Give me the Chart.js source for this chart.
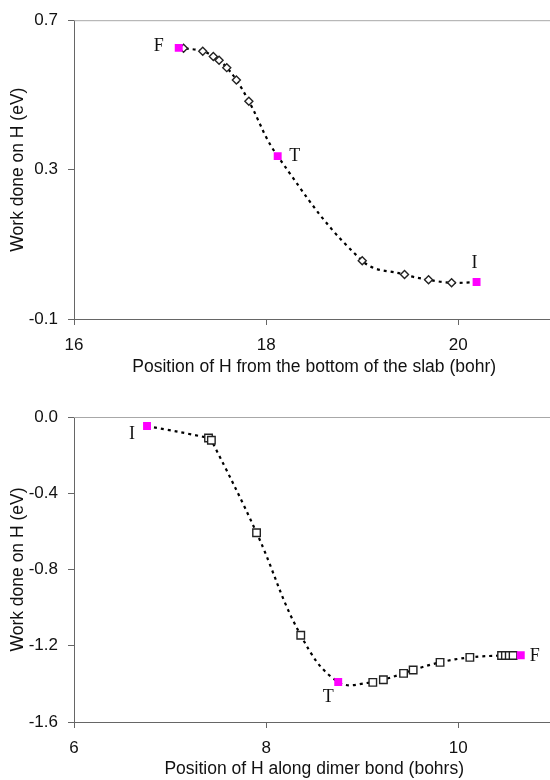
<!DOCTYPE html>
<html>
<head>
<meta charset="utf-8">
<script src="https://cdn.jsdelivr.net/npm/chart.js@4.4.1/dist/chart.umd.min.js"></script>
<style>
  html, body { margin: 0; padding: 0; background: #fff; overflow: hidden; width: 550px; height: 780px; }
  .panel { position: relative; width: 560px; height: 390px; }
</style>
</head>
<body>
<div class="panel"><canvas id="slabChart" width="560" height="390"></canvas></div>
<div class="panel"><canvas id="dimerChart" width="560" height="390"></canvas></div>
<script>
// Top panel: H leaving the slab
const slabX = [17.09, 17.14, 17.34, 17.45, 17.51, 17.59, 17.69, 17.82, 18.12, 19.00, 19.44, 19.69, 19.93, 20.19];
const slabY = [0.626, 0.625, 0.617, 0.603, 0.593, 0.573, 0.540, 0.483, 0.336, 0.056, 0.019, 0.005, -0.003, -0.001];
const slabStateX = [17.09, 18.12, 20.19];
const slabStateY = [0.626, 0.336, -0.001];
const slabStateNames = ['F', 'T', 'I'];
const slabXTicks = [16, 18, 20];
const slabYTicks = [-0.1, 0.3, 0.7];

// Bottom panel: H moving along the dimer bond
const dimerX = [6.76, 7.40, 7.43, 7.90, 8.36, 8.75, 9.11, 9.22, 9.43, 9.53, 9.81, 10.12, 10.45, 10.49, 10.53, 10.57, 10.65];
const dimerY = [-0.047, -0.110, -0.122, -0.607, -1.145, -1.390, -1.392, -1.378, -1.345, -1.327, -1.287, -1.261, -1.251, -1.251, -1.251, -1.251, -1.250];
const dimerStateX = [6.76, 8.75, 10.65];
const dimerStateY = [-0.047, -1.390, -1.250];
const dimerStateNames = ['I', 'T', 'F'];
const dimerXTicks = [6, 8, 10];
const dimerYTicks = [-1.6, -1.2, -0.8, -0.4, 0.0];

Chart.defaults.font.family = "'Liberation Sans', Arial, sans-serif";
Chart.defaults.font.size = 17;
Chart.defaults.color = '#111';

const AXIS = '#666';
const PINK = '#ff00ff';

// light rule across the top of the plot area
const topRule = {
  id: 'topRule',
  beforeDatasetsDraw(chart) {
    const { ctx, chartArea: a } = chart;
    ctx.save();
    ctx.strokeStyle = '#a8a8a8';
    ctx.lineWidth = 1;
    ctx.beginPath();
    ctx.moveTo(a.left, a.top + 0.5);
    ctx.lineTo(a.right, a.top + 0.5);
    ctx.stroke();
    ctx.restore();
  }
};

// serif letters next to the magenta state points
const stateLabels = {
  id: 'stateLabels',
  afterDatasetsDraw(chart, args, opts) {
    const meta = chart.getDatasetMeta(1);
    const ctx = chart.ctx;
    ctx.save();
    ctx.font = "18px 'Liberation Serif', 'Times New Roman', serif";
    ctx.fillStyle = '#111';
    ctx.textAlign = 'center';
    ctx.textBaseline = 'middle';
    meta.data.forEach((pt, i) => {
      const [dx, dy] = opts.offsets[i];
      ctx.fillText(opts.names[i], pt.x + dx, pt.y + dy);
    });
    ctx.restore();
  }
};

const toXY = (xs, ys) => xs.map((x, i) => ({ x, y: ys[i] }));

function buildChart(id, o) {
  const ctx = document.getElementById(id).getContext('2d');
  return new Chart(ctx, {
    type: 'line',
    data: {
      datasets: [
        {
          data: toXY(o.x, o.y),
          borderColor: '#000',
          borderWidth: 2.2,
          borderDash: [3, 4],
          tension: 0.4,
          fill: false,
          pointStyle: o.marker,
          pointRadius: c => o.stateX.includes(o.x[c.dataIndex]) ? 0 : o.markerRadius,
          pointBackgroundColor: '#fff',
          pointBorderColor: '#222',
          pointBorderWidth: 1.4,
          order: 2
        },
        {
          data: toXY(o.stateX, o.stateY),
          showLine: false,
          pointStyle: 'rect',
          pointRadius: 5.6,
          pointBackgroundColor: PINK,
          pointBorderColor: PINK,
          pointBorderWidth: 0,
          order: 1
        }
      ]
    },
    options: {
      responsive: false,
      animation: false,
      layout: { padding: { top: o.padTop, left: 0, right: 0, bottom: 0 } },
      plugins: {
        legend: { display: false },
        tooltip: { enabled: false },
        stateLabels: { names: o.stateNames, offsets: o.labelOffsets }
      },
      scales: {
        x: {
          type: 'linear',
          min: o.xMin,
          max: o.xMax,
          afterBuildTicks: axis => { axis.ticks = o.xTicks.map(v => ({ value: v })); },
          afterFit: axis => { axis.height = o.xAxisHeight; },
          grid: { drawOnChartArea: false, tickLength: 6, tickColor: AXIS },
          border: { color: AXIS, width: 1 },
          ticks: { padding: 10, maxRotation: 0 },
          title: {
            display: true,
            text: o.xTitle,
            font: { size: 17.5 },
            padding: { top: 0, bottom: o.xTitlePad }
          }
        },
        y: {
          type: 'linear',
          min: o.yTicks[0],
          max: o.yTicks[o.yTicks.length - 1],
          afterBuildTicks: axis => { axis.ticks = o.yTicks.map(v => ({ value: v })); },
          afterFit: axis => { axis.width = 74; },
          grid: { drawOnChartArea: false, tickLength: 6, tickColor: AXIS },
          border: { color: AXIS, width: 1 },
          ticks: { padding: 10, callback: v => v.toFixed(1) },
          title: {
            display: true,
            text: 'Work done on H (eV)',
            font: { size: 17.5 },
            padding: { top: 8, bottom: 0 }
          }
        }
      }
    },
    plugins: [topRule, stateLabels]
  });
}

buildChart('slabChart', {
  x: slabX, y: slabY,
  stateX: slabStateX, stateY: slabStateY, stateNames: slabStateNames,
  labelOffsets: [[-20, -2], [17, 0], [-2, -19]],
  marker: 'rectRot', markerRadius: 4,
  xMin: 16, xMax: 21, xTicks: slabXTicks, yTicks: slabYTicks,
  xTitle: 'Position of H from the bottom of the slab (bohr)',
  padTop: 16, xAxisHeight: 71, xTitlePad: 12
});

buildChart('dimerChart', {
  x: dimerX, y: dimerY,
  stateX: dimerStateX, stateY: dimerStateY, stateNames: dimerStateNames,
  labelOffsets: [[-15, 8], [-10, 15], [14, 1]],
  marker: 'rect', markerRadius: 5.3,
  xMin: 6, xMax: 11, xTicks: dimerXTicks, yTicks: dimerYTicks,
  xTitle: 'Position of H along dimer bond (bohrs)',
  padTop: 27, xAxisHeight: 58, xTitlePad: 0
});
</script>
</body>
</html>
